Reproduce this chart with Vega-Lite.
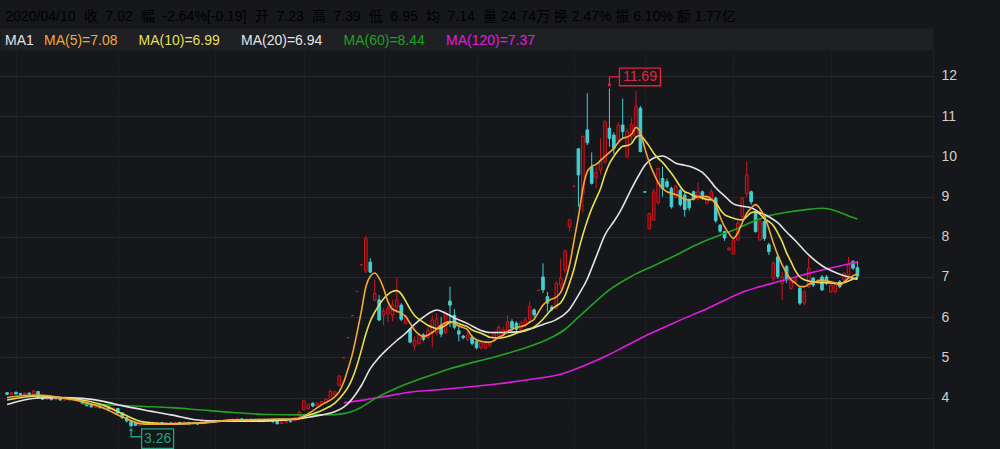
{
"$schema": "https://vega.github.io/schema/vega-lite/v6.json",
"width": 933, "height": 397,
"autosize": {"type": "none"},
"padding": {"left": 0, "top": 52, "right": 67, "bottom": 0},
"background": "#16171b",
"config": {"view": {"stroke": null}, "font": "Liberation Sans, Noto Sans CJK SC, sans-serif"},
"datasets": {
"k": [
{"i":0,"o":4.12,"h":4.14,"l":4.06,"c":4.08},{"i":1,"o":4.08,"h":4.14,"l":4.07,"c":4.12},{"i":2,"o":4.13,"h":4.15,"l":4.07,"c":4.09},{"i":3,"o":4.10,"h":4.12,"l":4.06,"c":4.08},{"i":4,"o":4.08,"h":4.13,"l":4.07,"c":4.11},
{"i":5,"o":4.11,"h":4.13,"l":4.07,"c":4.09},{"i":6,"o":4.09,"h":4.19,"l":4.08,"c":4.16},{"i":7,"o":4.15,"h":4.16,"l":3.97,"c":4.00},{"i":8,"o":3.99,"h":4.01,"l":3.94,"c":3.96},{"i":9,"o":3.96,"h":4.00,"l":3.94,"c":3.98},
{"i":10,"o":3.97,"h":3.99,"l":3.93,"c":3.95},{"i":11,"o":3.95,"h":3.99,"l":3.93,"c":3.97},{"i":12,"o":3.97,"h":3.98,"l":3.92,"c":3.94},{"i":13,"o":3.94,"h":3.98,"l":3.92,"c":3.96},{"i":14,"o":3.96,"h":3.98,"l":3.93,"c":3.95},
{"i":15,"o":3.95,"h":3.99,"l":3.94,"c":3.97},{"i":16,"o":3.96,"h":3.97,"l":3.91,"c":3.93},{"i":17,"o":3.93,"h":3.94,"l":3.84,"c":3.86},{"i":18,"o":3.86,"h":3.87,"l":3.78,"c":3.80},{"i":19,"o":3.80,"h":3.82,"l":3.75,"c":3.77},
{"i":20,"o":3.76,"h":3.81,"l":3.74,"c":3.79},{"i":21,"o":3.79,"h":3.80,"l":3.73,"c":3.75},{"i":22,"o":3.74,"h":3.79,"l":3.72,"c":3.77},{"i":23,"o":3.76,"h":3.77,"l":3.70,"c":3.72},{"i":24,"o":3.72,"h":3.76,"l":3.70,"c":3.74},
{"i":25,"o":3.73,"h":3.74,"l":3.60,"c":3.62},{"i":26,"o":3.62,"h":3.63,"l":3.47,"c":3.50},{"i":27,"o":3.50,"h":3.52,"l":3.38,"c":3.42},{"i":28,"o":3.40,"h":3.42,"l":3.26,"c":3.30},{"i":29,"o":3.37,"h":3.39,"l":3.29,"c":3.31},
{"i":30,"o":3.31,"h":3.37,"l":3.30,"c":3.35},{"i":31,"o":3.35,"h":3.39,"l":3.33,"c":3.37},{"i":32,"o":3.37,"h":3.38,"l":3.32,"c":3.34},{"i":33,"o":3.34,"h":3.38,"l":3.32,"c":3.36},{"i":34,"o":3.36,"h":3.40,"l":3.34,"c":3.38},
{"i":35,"o":3.38,"h":3.39,"l":3.33,"c":3.35},{"i":36,"o":3.35,"h":3.39,"l":3.34,"c":3.37},{"i":37,"o":3.37,"h":3.39,"l":3.34,"c":3.36},{"i":38,"o":3.36,"h":3.40,"l":3.35,"c":3.38},{"i":39,"o":3.38,"h":3.40,"l":3.35,"c":3.37},
{"i":40,"o":3.37,"h":3.41,"l":3.36,"c":3.39},{"i":41,"o":3.38,"h":3.39,"l":3.33,"c":3.35},{"i":42,"o":3.35,"h":3.38,"l":3.33,"c":3.36},{"i":43,"o":3.36,"h":3.37,"l":3.32,"c":3.34},{"i":44,"o":3.35,"h":3.49,"l":3.34,"c":3.41},
{"i":45,"o":3.41,"h":3.43,"l":3.37,"c":3.39},{"i":46,"o":3.39,"h":3.44,"l":3.38,"c":3.42},{"i":47,"o":3.42,"h":3.44,"l":3.38,"c":3.40},{"i":48,"o":3.40,"h":3.45,"l":3.39,"c":3.43},{"i":49,"o":3.43,"h":3.47,"l":3.41,"c":3.44},
{"i":50,"o":3.44,"h":3.46,"l":3.40,"c":3.42},{"i":51,"o":3.42,"h":3.48,"l":3.41,"c":3.45},{"i":52,"o":3.45,"h":3.50,"l":3.43,"c":3.47},{"i":53,"o":3.47,"h":3.48,"l":3.42,"c":3.44},{"i":54,"o":3.44,"h":3.48,"l":3.43,"c":3.46},
{"i":55,"o":3.46,"h":3.47,"l":3.41,"c":3.43},{"i":56,"o":3.43,"h":3.47,"l":3.42,"c":3.45},{"i":57,"o":3.45,"h":3.48,"l":3.42,"c":3.44},{"i":58,"o":3.44,"h":3.45,"l":3.39,"c":3.41},{"i":59,"o":3.41,"h":3.45,"l":3.40,"c":3.43},
{"i":60,"o":3.43,"h":3.44,"l":3.38,"c":3.40},{"i":61,"o":3.41,"h":3.44,"l":3.33,"c":3.35},{"i":62,"o":3.36,"h":3.41,"l":3.35,"c":3.39},{"i":63,"o":3.39,"h":3.43,"l":3.37,"c":3.41},{"i":64,"o":3.41,"h":3.43,"l":3.38,"c":3.40},
{"i":65,"o":3.42,"h":3.52,"l":3.41,"c":3.50},{"i":66,"o":3.55,"h":3.67,"l":3.52,"c":3.64},{"i":67,"o":3.70,"h":3.95,"l":3.68,"c":3.92},{"i":68,"o":3.73,"h":3.86,"l":3.70,"c":3.82},{"i":69,"o":3.86,"h":3.88,"l":3.76,"c":3.79},
{"i":70,"o":3.80,"h":3.88,"l":3.78,"c":3.86},{"i":71,"o":3.83,"h":3.92,"l":3.81,"c":3.90},{"i":72,"o":3.87,"h":3.98,"l":3.85,"c":3.96},{"i":73,"o":3.95,"h":4.20,"l":3.93,"c":4.15},{"i":74,"o":4.07,"h":4.17,"l":4.05,"c":4.14},
{"i":75,"o":4.30,"h":4.55,"l":4.28,"c":4.54},{"i":76,"o":4.99,"h":4.99,"l":4.99,"c":4.99},{"i":77,"o":5.49,"h":5.49,"l":5.49,"c":5.49},{"i":78,"o":6.04,"h":6.04,"l":6.04,"c":6.04},{"i":79,"o":6.64,"h":6.64,"l":6.64,"c":6.64},
{"i":80,"o":7.30,"h":7.30,"l":7.30,"c":7.30},{"i":81,"o":7.15,"h":8.03,"l":7.09,"c":7.95},{"i":82,"o":7.37,"h":7.47,"l":7.10,"c":7.12},{"i":83,"o":6.43,"h":6.93,"l":6.39,"c":6.59},{"i":84,"o":6.43,"h":6.55,"l":5.90,"c":5.93},
{"i":85,"o":6.04,"h":6.23,"l":5.80,"c":6.15},{"i":86,"o":6.08,"h":6.30,"l":5.88,"c":6.23},{"i":87,"o":6.05,"h":6.43,"l":5.90,"c":6.30},{"i":88,"o":6.26,"h":7.00,"l":6.10,"c":6.43},{"i":89,"o":6.30,"h":6.35,"l":5.90,"c":5.95},
{"i":90,"o":5.85,"h":6.05,"l":5.82,"c":6.00},{"i":91,"o":5.70,"h":5.72,"l":5.35,"c":5.38},{"i":92,"o":5.28,"h":5.52,"l":5.18,"c":5.43},{"i":93,"o":5.35,"h":5.60,"l":5.30,"c":5.56},{"i":94,"o":5.56,"h":5.60,"l":5.40,"c":5.45},
{"i":95,"o":5.50,"h":5.75,"l":5.45,"c":5.66},{"i":96,"o":5.64,"h":6.05,"l":5.25,"c":5.93},{"i":97,"o":5.62,"h":6.10,"l":5.55,"c":5.95},{"i":98,"o":5.80,"h":6.00,"l":5.50,"c":5.58},{"i":99,"o":5.62,"h":6.15,"l":5.58,"c":6.10},
{"i":100,"o":6.40,"h":6.76,"l":5.76,"c":6.30},{"i":101,"o":6.05,"h":6.20,"l":5.70,"c":5.75},{"i":102,"o":5.66,"h":5.80,"l":5.40,"c":5.58},{"i":103,"o":5.53,"h":5.56,"l":5.45,"c":5.49},{"i":104,"o":5.44,"h":5.80,"l":5.40,"c":5.56},
{"i":105,"o":5.50,"h":5.55,"l":5.30,"c":5.35},{"i":106,"o":5.40,"h":5.42,"l":5.20,"c":5.24},{"i":107,"o":5.24,"h":5.40,"l":5.20,"c":5.36},{"i":108,"o":5.22,"h":5.42,"l":5.20,"c":5.38},{"i":109,"o":5.30,"h":5.40,"l":5.25,"c":5.36},
{"i":110,"o":5.45,"h":5.65,"l":5.40,"c":5.60},{"i":111,"o":5.52,"h":5.80,"l":5.50,"c":5.75},{"i":112,"o":5.58,"h":5.76,"l":5.55,"c":5.68},{"i":113,"o":5.65,"h":6.05,"l":5.60,"c":5.89},{"i":114,"o":5.89,"h":5.95,"l":5.62,"c":5.73},
{"i":115,"o":5.85,"h":5.90,"l":5.65,"c":5.70},{"i":116,"o":5.70,"h":5.90,"l":5.65,"c":5.86},{"i":117,"o":5.80,"h":6.00,"l":5.76,"c":5.93},{"i":118,"o":5.95,"h":6.40,"l":5.88,"c":6.26},{"i":119,"o":6.18,"h":6.22,"l":6.00,"c":6.06},
{"i":120,"o":6.67,"h":6.67,"l":6.67,"c":6.67},{"i":121,"o":7.00,"h":7.34,"l":6.60,"c":6.68},{"i":122,"o":6.51,"h":6.63,"l":6.14,"c":6.35},{"i":123,"o":6.25,"h":6.30,"l":6.15,"c":6.20},{"i":124,"o":6.22,"h":6.90,"l":6.20,"c":6.84},
{"i":125,"o":6.80,"h":7.46,"l":6.70,"c":6.97},{"i":126,"o":7.17,"h":7.68,"l":7.10,"c":7.65},{"i":127,"o":8.25,"h":8.45,"l":8.13,"c":8.42},{"i":128,"o":9.26,"h":9.26,"l":9.26,"c":9.26},{"i":129,"o":10.19,"h":10.19,"l":8.75,"c":9.54},
{"i":130,"o":9.08,"h":10.51,"l":8.60,"c":10.50},{"i":131,"o":10.66,"h":11.57,"l":10.28,"c":10.34},{"i":132,"o":9.74,"h":10.10,"l":9.30,"c":9.33},{"i":133,"o":9.48,"h":9.75,"l":9.20,"c":9.60},{"i":134,"o":9.66,"h":10.45,"l":9.55,"c":9.87},
{"i":135,"o":9.87,"h":10.90,"l":9.80,"c":10.86},{"i":136,"o":10.70,"h":11.69,"l":10.24,"c":10.45},{"i":137,"o":10.53,"h":10.60,"l":10.05,"c":10.20},{"i":138,"o":10.41,"h":10.85,"l":10.30,"c":10.78},{"i":139,"o":10.78,"h":11.44,"l":10.45,"c":10.62},
{"i":140,"o":10.00,"h":10.70,"l":9.95,"c":10.62},{"i":141,"o":10.50,"h":10.95,"l":10.35,"c":10.80},{"i":142,"o":10.50,"h":11.62,"l":10.45,"c":11.24},{"i":143,"o":11.20,"h":11.25,"l":10.10,"c":10.12},{"i":144,"o":9.12,"h":9.12,"l":9.11,"c":9.11},
{"i":145,"o":8.20,"h":8.60,"l":8.20,"c":8.58},{"i":146,"o":8.42,"h":9.20,"l":8.40,"c":9.12},{"i":147,"o":8.85,"h":9.72,"l":8.80,"c":9.70},{"i":148,"o":9.45,"h":9.74,"l":9.00,"c":9.20},{"i":149,"o":9.37,"h":9.45,"l":9.20,"c":9.25},
{"i":150,"o":9.20,"h":9.25,"l":8.70,"c":8.75},{"i":151,"o":9.00,"h":9.30,"l":8.95,"c":9.25},{"i":152,"o":9.15,"h":9.20,"l":8.75,"c":8.80},{"i":153,"o":9.04,"h":9.10,"l":8.50,"c":8.68},{"i":154,"o":8.92,"h":8.95,"l":8.65,"c":8.72},
{"i":155,"o":9.12,"h":9.15,"l":8.90,"c":8.93},{"i":156,"o":8.95,"h":9.35,"l":8.90,"c":9.12},{"i":157,"o":9.12,"h":9.15,"l":8.92,"c":8.97},{"i":158,"o":8.84,"h":9.05,"l":8.80,"c":9.00},{"i":159,"o":8.93,"h":9.20,"l":8.90,"c":9.12},
{"i":160,"o":8.96,"h":9.00,"l":8.35,"c":8.40},{"i":161,"o":8.29,"h":8.32,"l":8.10,"c":8.14},{"i":162,"o":8.13,"h":8.15,"l":7.90,"c":7.97},{"i":163,"o":7.68,"h":7.75,"l":7.65,"c":7.72},{"i":164,"o":7.57,"h":7.95,"l":7.55,"c":7.92},
{"i":165,"o":7.92,"h":8.40,"l":7.90,"c":8.34},{"i":166,"o":8.50,"h":9.00,"l":8.45,"c":8.96},{"i":167,"o":9.08,"h":9.87,"l":9.00,"c":9.54},{"i":168,"o":9.12,"h":9.15,"l":8.80,"c":8.87},{"i":169,"o":8.58,"h":8.65,"l":8.10,"c":8.13},
{"i":170,"o":7.92,"h":8.45,"l":7.90,"c":8.38},{"i":171,"o":8.38,"h":8.45,"l":7.90,"c":7.96},{"i":172,"o":7.80,"h":7.85,"l":7.55,"c":7.63},{"i":173,"o":6.97,"h":7.40,"l":6.90,"c":7.34},{"i":174,"o":7.50,"h":7.55,"l":6.95,"c":7.01},
{"i":175,"o":6.84,"h":7.13,"l":6.43,"c":7.00},{"i":176,"o":7.26,"h":7.30,"l":6.85,"c":6.93},{"i":177,"o":6.72,"h":6.98,"l":6.68,"c":6.93},{"i":178,"o":6.90,"h":7.00,"l":6.85,"c":6.95},{"i":179,"o":6.72,"h":6.75,"l":6.30,"c":6.35},
{"i":180,"o":6.35,"h":6.68,"l":6.30,"c":6.63},{"i":181,"o":6.76,"h":7.50,"l":6.72,"c":7.22},{"i":182,"o":6.97,"h":7.00,"l":6.75,"c":6.80},{"i":183,"o":6.85,"h":6.95,"l":6.80,"c":6.92},{"i":184,"o":7.00,"h":7.05,"l":6.65,"c":6.68},
{"i":185,"o":7.00,"h":7.05,"l":6.80,"c":6.85},{"i":186,"o":6.63,"h":6.85,"l":6.60,"c":6.80},{"i":187,"o":6.63,"h":6.85,"l":6.60,"c":6.80},{"i":188,"o":6.88,"h":6.92,"l":6.72,"c":6.76},{"i":189,"o":6.93,"h":7.12,"l":6.90,"c":7.09},
{"i":190,"o":7.05,"h":7.50,"l":7.00,"c":7.30},{"i":191,"o":7.38,"h":7.42,"l":7.18,"c":7.22},{"i":192,"o":7.23,"h":7.39,"l":6.95,"c":7.02}
],
"ma": [
{"s":"MA120","i":76,"v":3.87},{"s":"MA120","i":80,"v":3.93},{"s":"MA120","i":85,"v":4.02},{"s":"MA120","i":90,"v":4.12},{"s":"MA120","i":100,"v":4.22},{"s":"MA120","i":110,"v":4.33},{"s":"MA120","i":118,"v":4.45},{"s":"MA120","i":125,"v":4.58},{"s":"MA120","i":130,"v":4.78},{"s":"MA120","i":135,"v":5.02},{"s":"MA120","i":140,"v":5.3},{"s":"MA120","i":145,"v":5.58},{"s":"MA120","i":150,"v":5.83},{"s":"MA120","i":155,"v":6.07},{"s":"MA120","i":157,"v":6.16},{"s":"MA120","i":162,"v":6.42},{"s":"MA120","i":166,"v":6.62},{"s":"MA120","i":170,"v":6.76},{"s":"MA120","i":174,"v":6.88},{"s":"MA120","i":178,"v":7.0},{"s":"MA120","i":181,"v":7.09},{"s":"MA120","i":185,"v":7.2},{"s":"MA120","i":189,"v":7.3},{"s":"MA120","i":192,"v":7.37},
{"s":"MA60","i":17,"v":3.85},{"s":"MA60","i":22,"v":3.82},{"s":"MA60","i":31,"v":3.78},{"s":"MA60","i":37,"v":3.75},{"s":"MA60","i":44,"v":3.69},{"s":"MA60","i":51,"v":3.63},{"s":"MA60","i":59,"v":3.58},{"s":"MA60","i":66,"v":3.57},{"s":"MA60","i":72,"v":3.57},{"s":"MA60","i":76,"v":3.6},{"s":"MA60","i":78,"v":3.66},{"s":"MA60","i":80,"v":3.76},{"s":"MA60","i":82,"v":3.9},{"s":"MA60","i":84,"v":4.03},{"s":"MA60","i":86,"v":4.14},{"s":"MA60","i":88,"v":4.24},{"s":"MA60","i":90,"v":4.33},{"s":"MA60","i":95,"v":4.53},{"s":"MA60","i":100,"v":4.72},{"s":"MA60","i":104,"v":4.84},{"s":"MA60","i":109,"v":4.98},{"s":"MA60","i":116,"v":5.2},{"s":"MA60","i":123,"v":5.5},{"s":"MA60","i":126,"v":5.7},{"s":"MA60","i":129,"v":6.0},{"s":"MA60","i":133,"v":6.4},{"s":"MA60","i":136,"v":6.68},{"s":"MA60","i":141,"v":7.02},{"s":"MA60","i":146,"v":7.28},{"s":"MA60","i":151,"v":7.54},{"s":"MA60","i":156,"v":7.82},{"s":"MA60","i":160,"v":8.0},{"s":"MA60","i":164,"v":8.16},{"s":"MA60","i":168,"v":8.36},{"s":"MA60","i":172,"v":8.52},{"s":"MA60","i":176,"v":8.61},{"s":"MA60","i":180,"v":8.67},{"s":"MA60","i":184,"v":8.71},{"s":"MA60","i":187,"v":8.65},{"s":"MA60","i":190,"v":8.52},{"s":"MA60","i":192,"v":8.44},
{"s":"MA20","i":0,"v":3.83},{"s":"MA20","i":7,"v":3.99},{"s":"MA20","i":12,"v":4.0},{"s":"MA20","i":17,"v":3.98},{"s":"MA20","i":22,"v":3.9},{"s":"MA20","i":26,"v":3.8},{"s":"MA20","i":31,"v":3.69},{"s":"MA20","i":37,"v":3.57},{"s":"MA20","i":44,"v":3.43},{"s":"MA20","i":51,"v":3.41},{"s":"MA20","i":59,"v":3.42},{"s":"MA20","i":65,"v":3.46},{"s":"MA20","i":68,"v":3.51},{"s":"MA20","i":71,"v":3.57},{"s":"MA20","i":74,"v":3.65},{"s":"MA20","i":76,"v":3.76},{"s":"MA20","i":78,"v":3.98},{"s":"MA20","i":80,"v":4.3},{"s":"MA20","i":82,"v":4.72},{"s":"MA20","i":84,"v":5.0},{"s":"MA20","i":86,"v":5.22},{"s":"MA20","i":88,"v":5.42},{"s":"MA20","i":90,"v":5.6},{"s":"MA20","i":92,"v":5.82},{"s":"MA20","i":94,"v":6.0},{"s":"MA20","i":96,"v":6.14},{"s":"MA20","i":97,"v":6.18},{"s":"MA20","i":99,"v":6.1},{"s":"MA20","i":101,"v":5.98},{"s":"MA20","i":104,"v":5.84},{"s":"MA20","i":107,"v":5.67},{"s":"MA20","i":109,"v":5.62},{"s":"MA20","i":112,"v":5.62},{"s":"MA20","i":116,"v":5.64},{"s":"MA20","i":119,"v":5.74},{"s":"MA20","i":121,"v":5.82},{"s":"MA20","i":124,"v":5.94},{"s":"MA20","i":127,"v":6.2},{"s":"MA20","i":129,"v":6.55},{"s":"MA20","i":131,"v":6.95},{"s":"MA20","i":132,"v":7.22},{"s":"MA20","i":133,"v":7.5},{"s":"MA20","i":135,"v":8.05},{"s":"MA20","i":137,"v":8.38},{"s":"MA20","i":138,"v":8.55},{"s":"MA20","i":139,"v":8.75},{"s":"MA20","i":141,"v":9.2},{"s":"MA20","i":143,"v":9.6},{"s":"MA20","i":144,"v":9.78},{"s":"MA20","i":146,"v":9.96},{"s":"MA20","i":148,"v":10.01},{"s":"MA20","i":150,"v":9.9},{"s":"MA20","i":151,"v":9.83},{"s":"MA20","i":153,"v":9.78},{"s":"MA20","i":155,"v":9.72},{"s":"MA20","i":157,"v":9.6},{"s":"MA20","i":159,"v":9.36},{"s":"MA20","i":160,"v":9.22},{"s":"MA20","i":162,"v":9.02},{"s":"MA20","i":164,"v":8.82},{"s":"MA20","i":166,"v":8.76},{"s":"MA20","i":168,"v":8.72},{"s":"MA20","i":170,"v":8.6},{"s":"MA20","i":172,"v":8.5},{"s":"MA20","i":174,"v":8.35},{"s":"MA20","i":176,"v":8.12},{"s":"MA20","i":178,"v":7.9},{"s":"MA20","i":180,"v":7.66},{"s":"MA20","i":182,"v":7.45},{"s":"MA20","i":184,"v":7.28},{"s":"MA20","i":186,"v":7.16},{"s":"MA20","i":188,"v":7.07},{"s":"MA20","i":190,"v":7.0},{"s":"MA20","i":192,"v":6.94},
{"s":"MA10","i":0,"v":3.94},{"s":"MA10","i":7,"v":4.04},{"s":"MA10","i":12,"v":4.0},{"s":"MA10","i":17,"v":3.94},{"s":"MA10","i":22,"v":3.8},{"s":"MA10","i":26,"v":3.6},{"s":"MA10","i":31,"v":3.39},{"s":"MA10","i":37,"v":3.35},{"s":"MA10","i":44,"v":3.37},{"s":"MA10","i":51,"v":3.44},{"s":"MA10","i":59,"v":3.45},{"s":"MA10","i":65,"v":3.46},{"s":"MA10","i":68,"v":3.56},{"s":"MA10","i":71,"v":3.68},{"s":"MA10","i":74,"v":3.86},{"s":"MA10","i":76,"v":4.1},{"s":"MA10","i":77,"v":4.26},{"s":"MA10","i":78,"v":4.49},{"s":"MA10","i":79,"v":4.8},{"s":"MA10","i":80,"v":5.18},{"s":"MA10","i":81,"v":5.58},{"s":"MA10","i":82,"v":5.9},{"s":"MA10","i":83,"v":6.12},{"s":"MA10","i":84,"v":6.3},{"s":"MA10","i":85,"v":6.46},{"s":"MA10","i":86,"v":6.57},{"s":"MA10","i":87,"v":6.64},{"s":"MA10","i":88,"v":6.66},{"s":"MA10","i":89,"v":6.58},{"s":"MA10","i":90,"v":6.4},{"s":"MA10","i":91,"v":6.2},{"s":"MA10","i":92,"v":6.04},{"s":"MA10","i":93,"v":5.95},{"s":"MA10","i":94,"v":5.87},{"s":"MA10","i":95,"v":5.8},{"s":"MA10","i":96,"v":5.75},{"s":"MA10","i":97,"v":5.72},{"s":"MA10","i":98,"v":5.74},{"s":"MA10","i":99,"v":5.8},{"s":"MA10","i":100,"v":5.87},{"s":"MA10","i":101,"v":5.88},{"s":"MA10","i":102,"v":5.84},{"s":"MA10","i":103,"v":5.8},{"s":"MA10","i":104,"v":5.76},{"s":"MA10","i":105,"v":5.68},{"s":"MA10","i":106,"v":5.64},{"s":"MA10","i":107,"v":5.6},{"s":"MA10","i":108,"v":5.55},{"s":"MA10","i":109,"v":5.5},{"s":"MA10","i":111,"v":5.48},{"s":"MA10","i":113,"v":5.52},{"s":"MA10","i":115,"v":5.6},{"s":"MA10","i":117,"v":5.68},{"s":"MA10","i":119,"v":5.76},{"s":"MA10","i":121,"v":5.95},{"s":"MA10","i":122,"v":6.08},{"s":"MA10","i":123,"v":6.2},{"s":"MA10","i":124,"v":6.28},{"s":"MA10","i":125,"v":6.36},{"s":"MA10","i":126,"v":6.55},{"s":"MA10","i":127,"v":6.85},{"s":"MA10","i":128,"v":7.2},{"s":"MA10","i":129,"v":7.65},{"s":"MA10","i":130,"v":8.05},{"s":"MA10","i":131,"v":8.4},{"s":"MA10","i":132,"v":8.7},{"s":"MA10","i":133,"v":8.95},{"s":"MA10","i":134,"v":9.2},{"s":"MA10","i":135,"v":9.55},{"s":"MA10","i":136,"v":9.82},{"s":"MA10","i":137,"v":10.0},{"s":"MA10","i":138,"v":10.15},{"s":"MA10","i":139,"v":10.25},{"s":"MA10","i":140,"v":10.27},{"s":"MA10","i":141,"v":10.32},{"s":"MA10","i":142,"v":10.48},{"s":"MA10","i":143,"v":10.52},{"s":"MA10","i":144,"v":10.4},{"s":"MA10","i":145,"v":10.25},{"s":"MA10","i":146,"v":10.08},{"s":"MA10","i":147,"v":9.95},{"s":"MA10","i":148,"v":9.85},{"s":"MA10","i":149,"v":9.72},{"s":"MA10","i":150,"v":9.58},{"s":"MA10","i":151,"v":9.42},{"s":"MA10","i":152,"v":9.25},{"s":"MA10","i":153,"v":9.12},{"s":"MA10","i":154,"v":9.08},{"s":"MA10","i":155,"v":9.02},{"s":"MA10","i":156,"v":9.0},{"s":"MA10","i":157,"v":8.96},{"s":"MA10","i":158,"v":8.93},{"s":"MA10","i":159,"v":8.92},{"s":"MA10","i":160,"v":8.85},{"s":"MA10","i":161,"v":8.68},{"s":"MA10","i":162,"v":8.55},{"s":"MA10","i":163,"v":8.5},{"s":"MA10","i":164,"v":8.46},{"s":"MA10","i":165,"v":8.43},{"s":"MA10","i":166,"v":8.42},{"s":"MA10","i":167,"v":8.5},{"s":"MA10","i":168,"v":8.6},{"s":"MA10","i":169,"v":8.62},{"s":"MA10","i":170,"v":8.56},{"s":"MA10","i":171,"v":8.45},{"s":"MA10","i":172,"v":8.38},{"s":"MA10","i":173,"v":8.28},{"s":"MA10","i":174,"v":8.1},{"s":"MA10","i":175,"v":7.88},{"s":"MA10","i":176,"v":7.6},{"s":"MA10","i":177,"v":7.38},{"s":"MA10","i":178,"v":7.15},{"s":"MA10","i":179,"v":7.0},{"s":"MA10","i":180,"v":6.93},{"s":"MA10","i":181,"v":6.9},{"s":"MA10","i":182,"v":6.88},{"s":"MA10","i":183,"v":6.87},{"s":"MA10","i":184,"v":6.86},{"s":"MA10","i":185,"v":6.86},{"s":"MA10","i":186,"v":6.85},{"s":"MA10","i":187,"v":6.84},{"s":"MA10","i":188,"v":6.84},{"s":"MA10","i":189,"v":6.86},{"s":"MA10","i":190,"v":6.9},{"s":"MA10","i":191,"v":6.95},{"s":"MA10","i":192,"v":6.99},
{"s":"MA5","i":0,"v":4.0},{"s":"MA5","i":4,"v":4.05},{"s":"MA5","i":7,"v":4.06},{"s":"MA5","i":12,"v":4.0},{"s":"MA5","i":17,"v":3.9},{"s":"MA5","i":22,"v":3.73},{"s":"MA5","i":26,"v":3.52},{"s":"MA5","i":31,"v":3.34},{"s":"MA5","i":37,"v":3.34},{"s":"MA5","i":44,"v":3.37},{"s":"MA5","i":51,"v":3.44},{"s":"MA5","i":59,"v":3.46},{"s":"MA5","i":65,"v":3.47},{"s":"MA5","i":68,"v":3.6},{"s":"MA5","i":71,"v":3.82},{"s":"MA5","i":74,"v":4.02},{"s":"MA5","i":75,"v":4.15},{"s":"MA5","i":76,"v":4.38},{"s":"MA5","i":77,"v":4.72},{"s":"MA5","i":78,"v":5.1},{"s":"MA5","i":79,"v":5.6},{"s":"MA5","i":80,"v":6.15},{"s":"MA5","i":81,"v":6.75},{"s":"MA5","i":82,"v":7.02},{"s":"MA5","i":83,"v":7.1},{"s":"MA5","i":84,"v":6.97},{"s":"MA5","i":85,"v":6.72},{"s":"MA5","i":86,"v":6.38},{"s":"MA5","i":87,"v":6.2},{"s":"MA5","i":88,"v":6.15},{"s":"MA5","i":89,"v":6.1},{"s":"MA5","i":90,"v":6.02},{"s":"MA5","i":91,"v":5.85},{"s":"MA5","i":92,"v":5.68},{"s":"MA5","i":93,"v":5.57},{"s":"MA5","i":94,"v":5.52},{"s":"MA5","i":95,"v":5.55},{"s":"MA5","i":96,"v":5.62},{"s":"MA5","i":97,"v":5.7},{"s":"MA5","i":98,"v":5.8},{"s":"MA5","i":99,"v":5.86},{"s":"MA5","i":100,"v":5.89},{"s":"MA5","i":101,"v":5.84},{"s":"MA5","i":102,"v":5.78},{"s":"MA5","i":103,"v":5.74},{"s":"MA5","i":104,"v":5.68},{"s":"MA5","i":105,"v":5.52},{"s":"MA5","i":106,"v":5.44},{"s":"MA5","i":107,"v":5.4},{"s":"MA5","i":108,"v":5.38},{"s":"MA5","i":109,"v":5.38},{"s":"MA5","i":110,"v":5.42},{"s":"MA5","i":111,"v":5.5},{"s":"MA5","i":112,"v":5.55},{"s":"MA5","i":113,"v":5.64},{"s":"MA5","i":114,"v":5.7},{"s":"MA5","i":115,"v":5.74},{"s":"MA5","i":116,"v":5.77},{"s":"MA5","i":117,"v":5.8},{"s":"MA5","i":118,"v":5.88},{"s":"MA5","i":119,"v":5.95},{"s":"MA5","i":120,"v":6.13},{"s":"MA5","i":121,"v":6.3},{"s":"MA5","i":122,"v":6.4},{"s":"MA5","i":123,"v":6.45},{"s":"MA5","i":124,"v":6.5},{"s":"MA5","i":125,"v":6.62},{"s":"MA5","i":126,"v":6.9},{"s":"MA5","i":127,"v":7.3},{"s":"MA5","i":128,"v":7.9},{"s":"MA5","i":129,"v":8.5},{"s":"MA5","i":130,"v":9.2},{"s":"MA5","i":131,"v":9.62},{"s":"MA5","i":132,"v":9.75},{"s":"MA5","i":133,"v":9.8},{"s":"MA5","i":134,"v":9.9},{"s":"MA5","i":135,"v":10.0},{"s":"MA5","i":136,"v":10.1},{"s":"MA5","i":137,"v":10.2},{"s":"MA5","i":138,"v":10.35},{"s":"MA5","i":139,"v":10.45},{"s":"MA5","i":140,"v":10.48},{"s":"MA5","i":141,"v":10.55},{"s":"MA5","i":142,"v":10.72},{"s":"MA5","i":143,"v":10.6},{"s":"MA5","i":144,"v":10.2},{"s":"MA5","i":145,"v":9.85},{"s":"MA5","i":146,"v":9.58},{"s":"MA5","i":147,"v":9.35},{"s":"MA5","i":148,"v":9.2},{"s":"MA5","i":149,"v":9.12},{"s":"MA5","i":150,"v":9.08},{"s":"MA5","i":151,"v":9.05},{"s":"MA5","i":152,"v":9.0},{"s":"MA5","i":153,"v":8.93},{"s":"MA5","i":154,"v":8.92},{"s":"MA5","i":155,"v":8.95},{"s":"MA5","i":156,"v":9.0},{"s":"MA5","i":157,"v":9.0},{"s":"MA5","i":158,"v":9.0},{"s":"MA5","i":159,"v":8.94},{"s":"MA5","i":160,"v":8.8},{"s":"MA5","i":161,"v":8.5},{"s":"MA5","i":162,"v":8.25},{"s":"MA5","i":163,"v":8.08},{"s":"MA5","i":164,"v":7.96},{"s":"MA5","i":165,"v":8.1},{"s":"MA5","i":166,"v":8.35},{"s":"MA5","i":167,"v":8.58},{"s":"MA5","i":168,"v":8.72},{"s":"MA5","i":169,"v":8.8},{"s":"MA5","i":170,"v":8.7},{"s":"MA5","i":171,"v":8.5},{"s":"MA5","i":172,"v":8.2},{"s":"MA5","i":173,"v":7.85},{"s":"MA5","i":174,"v":7.55},{"s":"MA5","i":175,"v":7.3},{"s":"MA5","i":176,"v":7.1},{"s":"MA5","i":177,"v":6.93},{"s":"MA5","i":178,"v":6.85},{"s":"MA5","i":179,"v":6.76},{"s":"MA5","i":180,"v":6.76},{"s":"MA5","i":181,"v":6.82},{"s":"MA5","i":182,"v":6.86},{"s":"MA5","i":183,"v":6.9},{"s":"MA5","i":184,"v":6.93},{"s":"MA5","i":185,"v":6.9},{"s":"MA5","i":186,"v":6.88},{"s":"MA5","i":187,"v":6.85},{"s":"MA5","i":188,"v":6.8},{"s":"MA5","i":189,"v":6.88},{"s":"MA5","i":190,"v":6.97},{"s":"MA5","i":191,"v":7.03},{"s":"MA5","i":192,"v":7.08}
],
"ann": [{"k":"max","i":136,"p":11.69,"t":"11.69"},{"k":"min","i":28,"p":3.26,"t":"3.26"}],
"hdr": [{"seg":"2020/04/10"},{"seg":"收"},{"seg":"7.02"},{"seg":"幅"},{"seg":"-2.64%[-0.19]"},{"seg":"开"},{"seg":"7.23"},{"seg":"高"},{"seg":"7.39"},{"seg":"低"},{"seg":"6.95"},{"seg":"均"},{"seg":"7.14"},{"seg":"量 24.74万  换 2.47%  振 6.10%  额 1.77亿"}]
},
"encoding": {
"x": {"field": "i", "type": "quantitative", "title": null,
 "scale": {"domain": [-0.469, 207.93], "nice": false, "zero": false},
 "axis": {"orient": "top", "offset": 13, "domainWidth": 22, "domainColor": "#1f2024", "domainCap": "butt", "labels": false, "ticks": false,
  "grid": true, "values": [2, 25, 47, 67, 85, 106, 128, 144, 164, 186], "gridColor": "#2c2d32", "gridDash": [1, 2], "gridWidth": 1}}
},
"layer": [
{"data": {"name": "k"},
 "mark": {"type": "rule", "strokeWidth": 1},
 "encoding": {
  "y": {"field": "l", "type": "quantitative", "title": null,
   "scale": {"domain": [2.721, 12.597], "nice": false, "zero": false},
   "axis": {"orient": "right", "values": [4,5,6,7,8,9,10,11,12], "grid": true, "gridColor": "#26272c", "gridWidth": 1, "domain": true, "domainColor": "#36373c", "domainDash": [1, 2], "ticks": false, "labelColor": "#cfcfcf", "labelFontSize": 14, "labelPadding": 8}},
  "y2": {"field": "h"},
  "stroke": {"condition": {"test": "datum.c >= datum.o", "value": "#d2161f"}, "value": "#42cfd1"}
 }},
{"data": {"name": "k"},
 "mark": {"type": "bar", "width": 2.6, "strokeWidth": 1},
 "encoding": {
  "y": {"field": "o", "type": "quantitative", "title": null},
  "y2": {"field": "c"},
  "fill": {"condition": {"test": "datum.c >= datum.o", "value": "#4a0a0e"}, "value": "#42cfd1"},
  "stroke": {"condition": {"test": "datum.c >= datum.o", "value": "#d2161f"}, "value": "#42cfd1"}
 }},
{"data": {"name": "ma"},
 "mark": {"type": "line", "strokeWidth": 1.6, "interpolate": "monotone"},
 "encoding": {
  "y": {"field": "v", "type": "quantitative", "title": null},
  "color": {"field": "s", "type": "nominal",
   "scale": {"domain": ["MA5", "MA10", "MA20", "MA60", "MA120"], "range": ["#f2a93b", "#e6df57", "#e4e4e4", "#22a122", "#e21de2"]},
   "legend": {"orient": "none", "legendX": 5, "legendY": -18.5, "direction": "horizontal", "columns": 5,
    "title": "MA1", "titleOrient": "left", "titleColor": "#e2e2e2", "titleFontSize": 14, "titleFontWeight": "normal", "titlePadding": 7,
    "labelExpr": "datum.label == 'MA5' ? 'MA(5)=7.08' : datum.label == 'MA10' ? 'MA(10)=6.99' : datum.label == 'MA20' ? 'MA(20)=6.94' : datum.label == 'MA60' ? 'MA(60)=8.44' : 'MA(120)=7.37'",
    "labelFontSize": 14, "labelOffset": -11, "labelLimit": 300, "symbolSize": 0.0001, "symbolStrokeWidth": 0.0001, "symbolOpacity": 0, "columnPadding": 17.5,
    "encode": {"labels": {"update": {"fill": {"scale": "color", "field": "value"}}}}}
  },
  "order": {"field": "i", "type": "quantitative"}
 }},
{"data": {"name": "ann"},
 "transform": [{"filter": {"field": "k", "equal": "max"}}],
 "mark": {"type": "point", "shape": "M-1,-3.5 A1,1 0 1,0 1,-3.5 A1,1 0 1,0 -1,-3.5 M0,-3.5 L0,-11.5 L10,-11.5 M10,-20.3 L51,-20.3 L51,-2.7 L10,-2.7 Z", "size": 4, "filled": false, "stroke": "#e5223f", "strokeWidth": 1.3, "opacity": 1},
 "encoding": {"y": {"field": "p", "type": "quantitative", "title": null}}},
{"data": {"name": "ann"},
 "transform": [{"filter": {"field": "k", "equal": "max"}}],
 "mark": {"type": "text", "dx": 30.5, "dy": -11.5, "align": "center", "baseline": "middle", "fontSize": 14, "fill": "#e5223f"},
 "encoding": {"y": {"field": "p", "type": "quantitative", "title": null}, "text": {"field": "t"}}},
{"data": {"name": "ann"},
 "transform": [{"filter": {"field": "k", "equal": "min"}}],
 "mark": {"type": "point", "shape": "M-1,2.7 A1,1 0 1,0 1,2.7 A1,1 0 1,0 -1,2.7 M0,2.7 L0,9.4 L10.5,9.4 M10.5,1.5 L42.5,1.5 L42.5,21 L10.5,21 Z", "size": 4, "filled": false, "stroke": "#21a37f", "strokeWidth": 1.3, "opacity": 1},
 "encoding": {"y": {"field": "p", "type": "quantitative", "title": null}}},
{"data": {"name": "ann"},
 "transform": [{"filter": {"field": "k", "equal": "min"}}],
 "mark": {"type": "text", "dx": 26.5, "dy": 11.3, "align": "center", "baseline": "middle", "fontSize": 14, "fill": "#21a37f"},
 "encoding": {"y": {"field": "p", "type": "quantitative", "title": null}, "text": {"field": "t"}}},
{"data": {"name": "hdr"},
 "mark": {"type": "point", "opacity": 0},
 "encoding": {
  "fill": {"field": "seg", "type": "nominal",
   "scale": {"domain": ["2020/04/10","收","7.02","幅","-2.64%[-0.19]","开","7.23","高","7.39","低","6.95","均","7.14","量 24.74万  换 2.47%  振 6.10%  额 1.77亿"],
    "range": ["#dedede","#dedede","#21a37f","#dedede","#21a37f","#dedede","#e5223f","#dedede","#e5223f","#dedede","#21a37f","#dedede","#21a37f","#dedede"]},
   "legend": {"orient": "none", "legendX": 6.5, "legendY": -42, "direction": "horizontal", "columns": 14, "title": null,
    "labelFontSize": 14, "labelOffset": -15, "labelLimit": 400, "symbolLimit": 50, "symbolSize": 0.0001, "symbolStrokeWidth": 0.0001, "symbolOpacity": 0, "columnPadding": 7.5,
    "encode": {"labels": {"update": {"fill": {"scale": "fill", "field": "value"}}}}}
  }
 }}
]
}
